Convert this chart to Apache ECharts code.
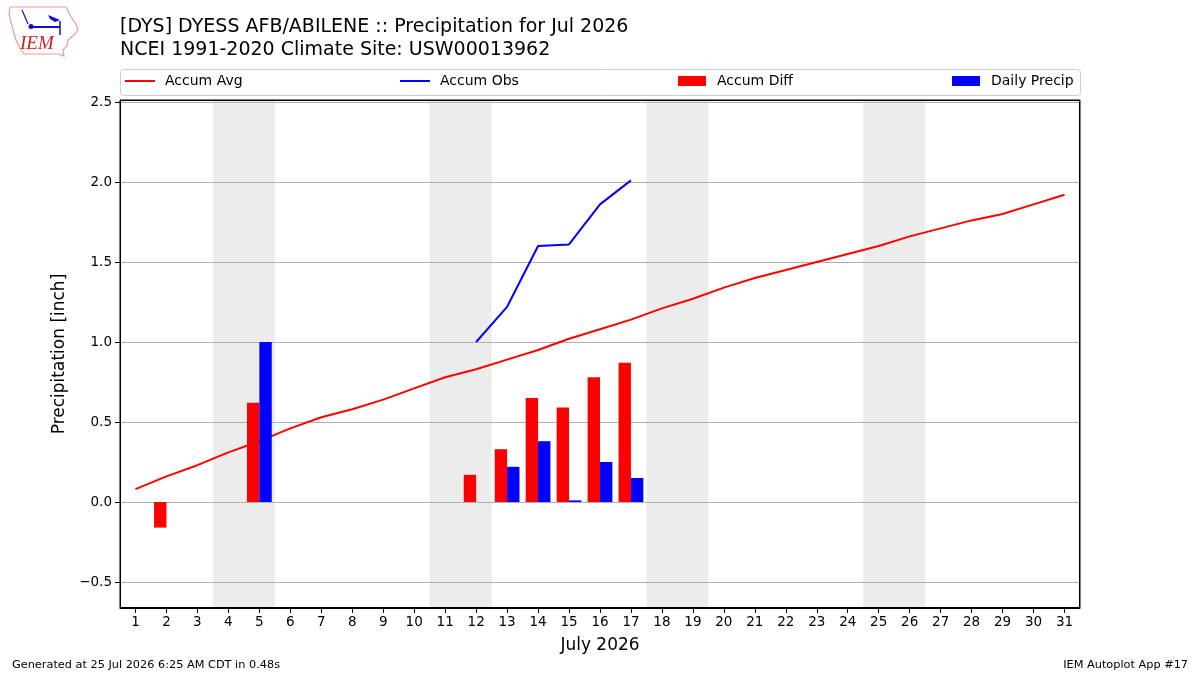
<!DOCTYPE html>
<html>
<head>
<meta charset="utf-8">
<script src="https://cdn.jsdelivr.net/npm/echarts@6/dist/echarts.min.js"></script>
<style>
  html, body { margin: 0; padding: 0; background: #fff; }
  #main { width: 1200px; height: 675px; }
</style>
</head>
<body>
<div id="main"></div>
<script>
// day of month
var days = [1, 2, 3, 4, 5, 6, 7, 8, 9, 10, 11, 12, 13, 14, 15, 16, 17, 18, 19, 20, 21, 22, 23, 24, 25, 26, 27, 28, 29, 30, 31];
// climatology accumulated precip
var accumAvg = [0.08, 0.16, 0.23, 0.31, 0.38, 0.46, 0.53, 0.58, 0.64, 0.71, 0.78, 0.83, 0.89, 0.95, 1.02, 1.08,
    1.14, 1.21, 1.27, 1.34, 1.40, 1.45, 1.50, 1.55, 1.60, 1.66, 1.71, 1.76, 1.80, 1.86, 1.92];
// observed accumulation
var obsDays = [12, 13, 14, 15, 16, 17];
var accumObs = [1.00, 1.22, 1.60, 1.61, 1.86, 2.01];
// obs - avg
var diffDays = [2, 5, 12, 13, 14, 15, 16, 17];
var accumDiff = [-0.16, 0.62, 0.17, 0.33, 0.65, 0.59, 0.78, 0.87];
// daily totals
var precipDays = [5, 13, 14, 15, 16, 17];
var dailyPrecip = [1.00, 0.22, 0.38, 0.01, 0.25, 0.15];
// first day of each weekend (Sat)
var weekendStart = [4, 11, 18, 25];
var yTicks = [-0.5, 0, 0.5, 1.0, 1.5, 2.0, 2.5];

var FONT = "DejaVu Sans";

function pairs(xs, ys) {
    var out = [];
    for (var i = 0; i < xs.length; i++) out.push([xs[i], ys[i]]);
    return out;
}

//柱子用custom画，宽0.4天，红的在左蓝的在右
function barRenderer(offset) {
    return function (params, api) {
        var x = api.value(0), y = api.value(1);
        var p0 = api.coord([x + offset, 0]);
        var p1 = api.coord([x + offset + 0.4, y]);
        return {
            type: "rect",
            shape: {
                x: p0[0],
                y: Math.min(p0[1], p1[1]),
                width: p1[0] - p0[0],
                height: Math.abs(p1[1] - p0[1])
            },
            style: { fill: api.visual("color") }
        };
    };
}

var weekendAreas = [];
for (var i = 0; i < weekendStart.length; i++) {
    weekendAreas.push([{ xAxis: weekendStart[i] - 0.5 }, { xAxis: weekendStart[i] + 1.5 }]);
}

function legendItem(name, left, w, h, gap) {
    return {
        data: [name], left: left, top: 74, padding: 0, icon: "rect", itemWidth: w, itemHeight: h,
        textStyle: { fontFamily: FONT, fontSize: 14, color: "#000", padding: [0, 0, 0, gap] }
    };
}

var chart = echarts.init(document.getElementById("main"));

var option = {
    animation: false,
    backgroundColor: "#fff",
    textStyle: { fontFamily: FONT },
    title: {
        text: "[DYS] DYESS AFB/ABILENE :: Precipitation for Jul 2026\nNCEI 1991-2020 Climate Site: USW00013962",
        left: 115,
        top: 11,
        textStyle: { fontFamily: FONT, fontSize: 19, fontWeight: "normal", color: "#000", lineHeight: 23 }
    },
    legend: [
        legendItem("Accum Avg", 125, 30, 2, 5),
        legendItem("Accum Obs", 400, 30, 2, 5),
        legendItem("Accum Diff", 678, 28, 10, 6),
        legendItem("Daily Precip", 952, 28, 10, 6)
    ],
    grid: {
        left: 120, right: 120, top: 100, bottom: 67,
        show: true, borderColor: "#000", borderWidth: 1
    },
    xAxis: {
        type: "value",
        min: 0.5,
        max: 31.5,
        z: 3,
        name: "July 2026",
        nameLocation: "middle",
        nameGap: 29,
        nameTextStyle: { fontFamily: FONT, fontSize: 17, color: "#000" },
        axisLine: { show: true, onZero: false, lineStyle: { color: "#000" } },
        axisTick: { show: true, length: 5, customValues: days, lineStyle: { color: "#000" } },
        axisLabel: { customValues: days, margin: 7, fontFamily: FONT, fontSize: 13.5, color: "#000" },
        splitLine: { show: false }
    },
    yAxis: {
        type: "value",
        min: -0.6625,
        max: 2.5125,
        z: 3,
        name: "Precipitation [inch]",
        nameLocation: "middle",
        nameGap: 45,
        nameTextStyle: { fontFamily: FONT, fontSize: 17, color: "#000" },
        axisLine: { show: true, lineStyle: { color: "#000" } },
        axisTick: { show: true, length: 5, customValues: yTicks, lineStyle: { color: "#000" } },
        axisLabel: {
            customValues: yTicks, margin: 8, fontFamily: FONT, fontSize: 13.5, color: "#000",
            formatter: function (v) { return (v < 0 ? "\u2212" : "") + Math.abs(v).toFixed(1); }
        },
        splitLine: { show: true, lineStyle: { color: "#b0b0b0", width: 1 } }
    },
    series: [
        // 周末阴影，单独一个系列放到最底层
        {
            name: "weekend",
            type: "line",
            data: [],
            z: 1,
            silent: true,
            markArea: {
                silent: true,
                itemStyle: { color: "#ececec" },
                data: weekendAreas
            }
        },
        {
            name: "Accum Avg",
            type: "line",
            data: pairs(days, accumAvg),
            showSymbol: false,
            color: "#ff0000",
            lineStyle: { width: 2, color: "#ff0000" },
            z: 4
        },
        {
            name: "Accum Obs",
            type: "line",
            data: pairs(obsDays, accumObs),
            showSymbol: false,
            color: "#0000ff",
            lineStyle: { width: 2, color: "#0000ff" },
            z: 4
        },
        {
            name: "Accum Diff",
            type: "custom",
            color: "#ff0000",
            renderItem: barRenderer(-0.4),
            encode: { x: 0, y: 1 },
            data: pairs(diffDays, accumDiff),
            z: 5
        },
        {
            name: "Daily Precip",
            type: "custom",
            color: "#0000ff",
            renderItem: barRenderer(0),
            encode: { x: 0, y: 1 },
            data: pairs(precipDays, dailyPrecip),
            z: 5
        }
    ],
    graphic: [
        // 图例外框
        {
            type: "rect",
            shape: { x: 120.5, y: 69.5, width: 960, height: 26, r: 3 },
            style: { fill: "#fff", stroke: "#cccccc", lineWidth: 1 },
            z: -1
        },
        // 绘图区外框，盖在阴影上面
        {
            type: "rect",
            shape: { x: 120.5, y: 100.5, width: 959, height: 507 },
            style: { fill: null, stroke: "#000", lineWidth: 1 },
            silent: true,
            z: 100
        },
        // IEM logo, rough sketch
        {
            type: "polyline",
            shape: {
                points: [[10, 7], [66, 7], [68, 11], [71, 17], [76, 24], [78, 30], [74, 35], [68, 40],
                    [67, 46], [63, 50], [64, 56], [58, 54], [24, 54], [20, 48], [16, 40], [13, 30], [11, 22], [9, 14], [10, 7]]
            },
            style: { stroke: "#e89a9a", fill: "#fff", lineWidth: 1.2 }
        },
        {
            type: "line",
            shape: { x1: 30, y1: 27, x2: 60, y2: 27 },
            style: { stroke: "#1010c0", lineWidth: 2 }
        },
        {
            type: "circle",
            shape: { cx: 31, cy: 26.5, r: 2.5 },
            style: { fill: "#1010c0" }
        },
        {
            type: "line",
            shape: { x1: 60, y1: 21, x2: 60, y2: 35 },
            style: { stroke: "#1010c0", lineWidth: 1.5 }
        },
        {
            type: "polygon",
            shape: { points: [[48, 15], [53, 17], [60, 20], [55, 22], [50, 19]] },
            style: { fill: "#1010c0" }
        },
        {
            type: "line",
            shape: { x1: 22, y1: 10, x2: 28, y2: 24 },
            style: { stroke: "#1010c0", lineWidth: 1.2 }
        },
        {
            type: "text",
            left: 20, top: 34,
            style: { text: "IEM", fontFamily: "Liberation Serif", fontStyle: "italic", fontSize: 19, fill: "#d02020" }
        },
        // footer
        {
            type: "text",
            left: 12, top: 660,
            style: { text: "Generated at 25 Jul 2026 6:25 AM CDT in 0.48s", fontFamily: FONT, fontSize: 11.3, fill: "#000" }
        },
        {
            type: "text",
            right: 12, top: 660,
            style: { text: "IEM Autoplot App #17", fontFamily: FONT, fontSize: 11.3, fill: "#000" }
        }
    ]
};

chart.setOption(option);
</script>
</body>
</html>
